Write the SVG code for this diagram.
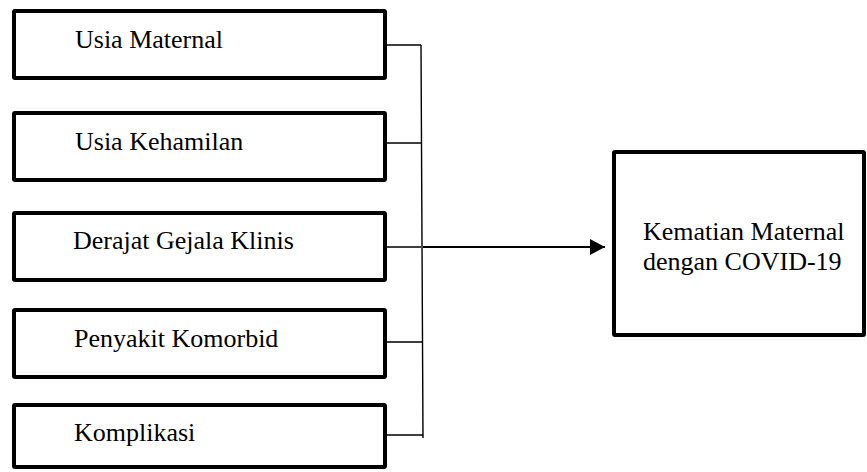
<svg xmlns="http://www.w3.org/2000/svg" width="867" height="472" viewBox="0 0 867 472">
<defs>
<style>
.box{fill:#fff;stroke:#000;stroke-width:4;stroke-linejoin:round}
.lbl{font-family:"Liberation Serif","Times New Roman",serif;font-size:26px;fill:#000}
.con{fill:none;stroke:#000;stroke-width:1.4}
.arr{fill:none;stroke:#000;stroke-width:2}
</style>
<marker id="ah" markerWidth="16" markerHeight="16" refX="15" refY="8" orient="auto" markerUnits="userSpaceOnUse">
<path d="M0,0 L15,8 L0,16 Z" fill="#000"/>
</marker>
</defs>
<rect width="867" height="472" fill="#fff"/>
<g id="connectors">
<path class="con" d="M385,45 H421 M385,143 H421 M385,247 H421 M385,342 H422 M385,435 H423 M421,45 L423,438"/>
<path class="arr" d="M423,247 H605" marker-end="url(#ah)"/>
</g>
<g id="n1"><rect class="box" x="14" y="11" width="371" height="67" rx="1"/><text class="lbl" x="75" y="48">Usia Maternal</text></g>
<g id="n2"><rect class="box" x="14" y="113" width="371" height="67" rx="1"/><text class="lbl" x="75" y="150">Usia Kehamilan</text></g>
<g id="n3"><rect class="box" x="14" y="213" width="371" height="67" rx="1"/><text class="lbl" x="73" y="249">Derajat Gejala Klinis</text></g>
<g id="n4"><rect class="box" x="14" y="310" width="371" height="67" rx="1"/><text class="lbl" x="74" y="347">Penyakit Komorbid</text></g>
<g id="n5"><rect class="box" x="14" y="405" width="371" height="62" rx="1"/><text class="lbl" x="74" y="441">Komplikasi</text></g>
<g id="n6"><rect class="box" x="614" y="152" width="250" height="183" rx="1"/><text class="lbl" x="643" y="240">Kematian Maternal</text><text class="lbl" x="643" y="270">dengan COVID-19</text></g>
</svg>
